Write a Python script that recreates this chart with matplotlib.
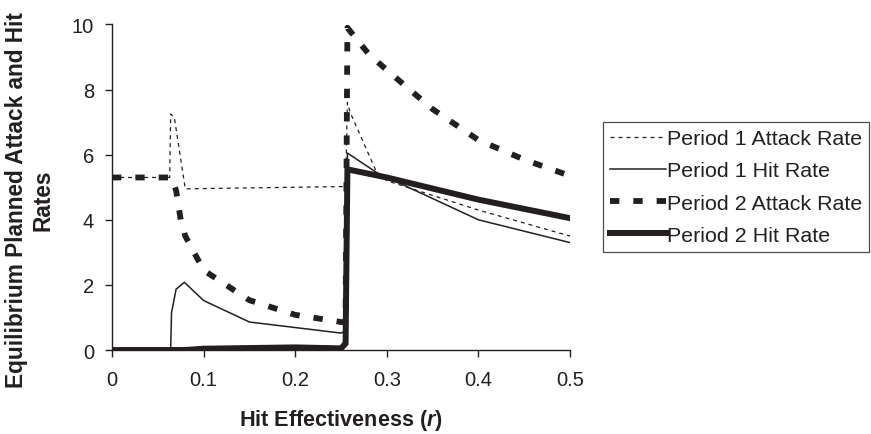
import matplotlib.pyplot as plt

plt.rcParams['font.family'] = ['Liberation Sans', 'DejaVu Sans']
plt.rcParams['mathtext.fontset'] = 'custom'
plt.rcParams['mathtext.it'] = 'Liberation Sans:italic:bold'

INK = '#231f20'

# Period 1 attack rate
r_p1_attack = [0, 0.063, 0.064, 0.068, 0.08, 0.1, 0.15, 0.2, 0.25, 0.255,
               0.257, 0.26, 0.289, 0.3, 0.4, 0.5]
p1_attack = [5.3, 5.3, 7.25, 7.15, 4.95, 4.96, 4.98, 5.0, 5.02, 5.02,
             7.6, 7.3, 5.45, 5.2, 4.3, 3.5]

# Period 1 hit rate
r_p1_hit = [0, 0.064, 0.065, 0.07, 0.079, 0.1, 0.15, 0.25, 0.255,
            0.257, 0.289, 0.4, 0.5]
p1_hit = [0, 0, 1.15, 1.87, 2.08, 1.52, 0.86, 0.52, 0.58,
          6.05, 5.45, 4.0, 3.3]

# Period 2 attack rate
r_p2_attack = [0, 0.065, 0.07, 0.075, 0.08, 0.1, 0.15, 0.2, 0.25, 0.255,
               0.257, 0.28, 0.3, 0.35, 0.4, 0.45, 0.5]
p2_attack = [5.3, 5.3, 4.9, 4.0, 3.5, 2.45, 1.53, 1.08, 0.86, 0.85,
             9.9, 9.1, 8.6, 7.4, 6.45, 5.85, 5.35]

# Period 2 hit rate
r_p2_hit = [0, 0.08, 0.1, 0.2, 0.25, 0.255, 0.257, 0.3, 0.4, 0.5]
p2_hit = [0, 0, 0.04, 0.08, 0.05, 0.2, 5.55, 5.3, 4.62, 4.05]

fig = plt.figure(figsize=(8.71, 4.35), dpi=100)
ax = fig.add_axes([0.1286, 0.1931, 0.5258, 0.7483])

ax.plot(r_p1_attack, p1_attack, color=INK, lw=0.9, ls=(0, (3.2, 3.2)),
        label='Period 1 Attack Rate')
ax.plot(r_p1_hit, p1_hit, color=INK, lw=1.1, label='Period 1 Hit Rate')
ax.plot(r_p2_attack, p2_attack, color=INK, lw=4.2, ls=(0, (1.6, 2.4)),
        dash_capstyle='butt', label='Period 2 Attack Rate')
ax.plot(r_p2_hit, p2_hit, color=INK, lw=4.3, solid_joinstyle='miter',
        label='Period 2 Hit Rate')

ax.set_xlim(0, 0.5)
ax.set_ylim(0, 10)
ax.set_xticks([0, 0.1, 0.2, 0.3, 0.4, 0.5])
ax.set_xticklabels(['0', '0.1', '0.2', '0.3', '0.4', '0.5'])
ax.set_yticks([0, 2, 4, 6, 8, 10])
for s in ['top', 'right']:
    ax.spines[s].set_visible(False)
for s in ['left', 'bottom']:
    ax.spines[s].set_color(INK)
    ax.spines[s].set_linewidth(1.0)
ax.tick_params(direction='out', length=5, width=1.0, colors=INK,
               labelsize=14.5)
ax.tick_params(axis='x', pad=9.5)
ax.tick_params(axis='y', pad=8)

ax.set_xlabel(r'Hit Effectiveness ($\mathit{r}$)', fontsize=15.6,
              fontweight='bold', color=INK, va='center')
ax.xaxis.set_label_coords(0.5, -0.212)
ax.set_ylabel('Equilibrium Planned Attack and Hit\nRates', fontsize=16.3,
              fontweight='bold', color=INK, va='center', ha='center',
              linespacing=1.2)
ax.yaxis.set_label_coords(-0.179, 0.464)

leg = fig.legend(loc='upper left', bbox_to_anchor=(0.6923, 0.7172),
                 bbox_transform=fig.transFigure, frameon=True, fancybox=False,
                 fontsize=15.4, handlelength=2.6, handletextpad=0.05,
                 borderaxespad=0, borderpad=0.33, labelspacing=0.62)
leg.get_frame().set_edgecolor(INK)
leg.get_frame().set_linewidth(0.9)
for t in leg.get_texts():
    t.set_color(INK)

fig.savefig('out.png', dpi=100)
